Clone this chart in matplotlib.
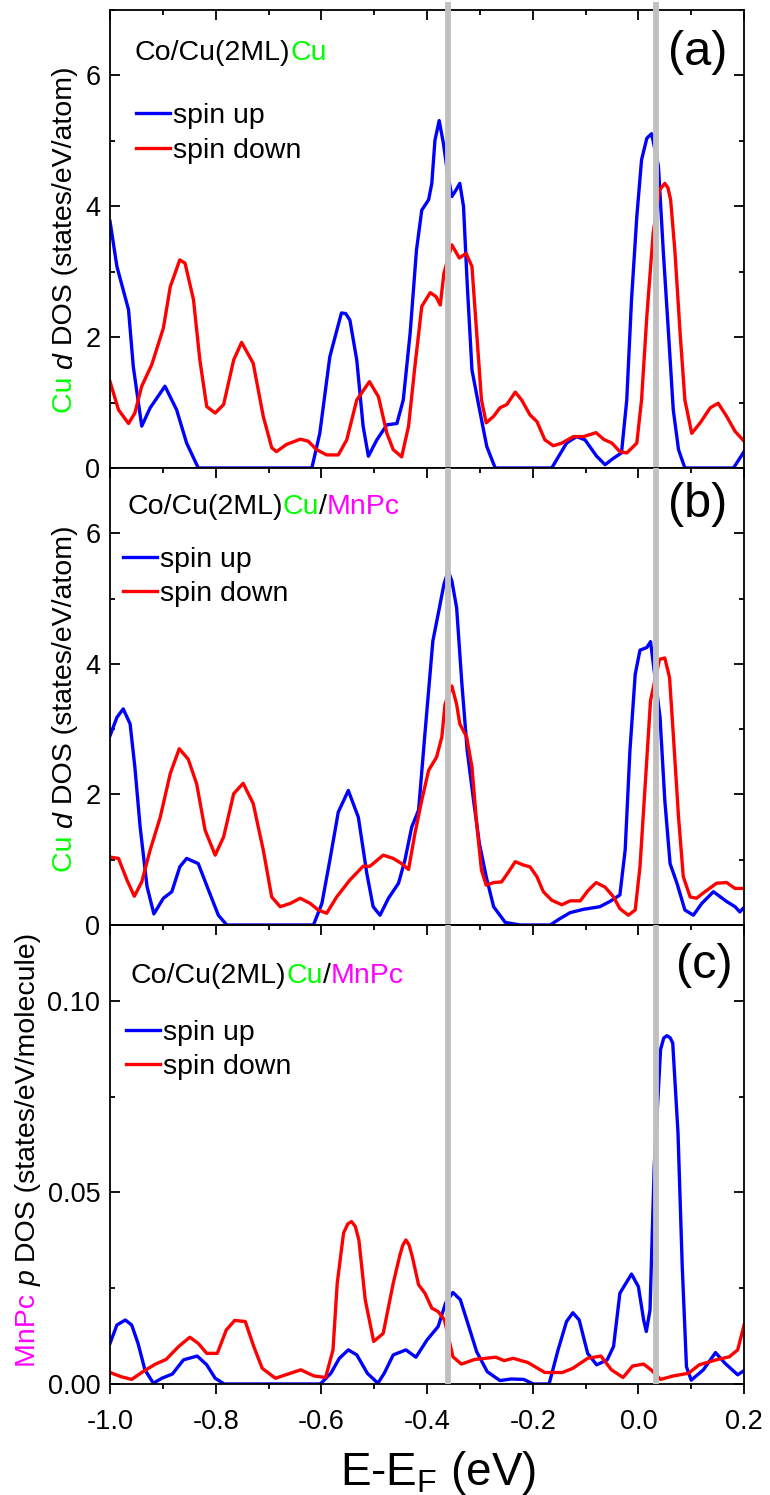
import matplotlib
matplotlib.use("Agg")
import matplotlib.pyplot as plt
from matplotlib.ticker import MultipleLocator, FormatStrFormatter

plt.rcParams['font.family'] = ['Liberation Sans', 'DejaVu Sans']
plt.rcParams['mathtext.fontset'] = 'custom'
plt.rcParams['mathtext.rm'] = 'Liberation Sans'
plt.rcParams['mathtext.it'] = 'Liberation Sans:italic'

# ---- data: energy E-E_F (eV) and DOS ----
# (a) Cu d DOS, Co/Cu(2ML)Cu
e_a_up = [-1.000, -0.987, -0.965, -0.956, -0.940, -0.924, -0.896, -0.874, -0.855, -0.833,
          -0.618, -0.603, -0.584, -0.562, -0.554, -0.546, -0.533, -0.521, -0.511, -0.495, -0.476,
          -0.457, -0.445, -0.432, -0.420, -0.410, -0.397, -0.391, -0.385, -0.377, -0.369,
          -0.361, -0.353, -0.345, -0.338, -0.331, -0.324, -0.315, -0.303, -0.287, -0.271,
          -0.164, -0.136, -0.117, -0.101, -0.079, -0.063, -0.047, -0.032, -0.022, -0.013,
          -0.003, 0.006, 0.016, 0.025, 0.038, 0.047, 0.057, 0.066, 0.076, 0.088,
          0.180, 0.200]
dos_a_up = [3.77, 3.08, 2.42, 1.55, 0.64, 0.92, 1.25, 0.89, 0.38, 0.00,
            0.00, 0.53, 1.70, 2.37, 2.36, 2.26, 1.65, 0.64, 0.18, 0.43, 0.66,
            0.68, 1.04, 2.06, 3.33, 3.94, 4.10, 4.35, 5.01, 5.31, 4.96,
            4.50, 4.15, 4.25, 4.35, 4.00, 2.82, 1.50, 0.99, 0.33, 0.00,
            0.00, 0.38, 0.48, 0.43, 0.18, 0.05, 0.15, 0.23, 1.04, 2.57,
            3.84, 4.71, 5.04, 5.11, 4.61, 3.33, 2.06, 0.89, 0.28, 0.00,
            0.00, 0.25]
e_a_dn = [-1.000, -0.984, -0.965, -0.953, -0.940, -0.921, -0.899, -0.886, -0.868, -0.858,
          -0.842, -0.830, -0.817, -0.801, -0.785, -0.766, -0.751, -0.729, -0.710, -0.694,
          -0.685, -0.666, -0.640, -0.625, -0.609, -0.590, -0.568, -0.552, -0.533, -0.509,
          -0.492, -0.476, -0.464, -0.448, -0.435, -0.423, -0.410, -0.394, -0.383, -0.375,
          -0.368, -0.353, -0.339, -0.326, -0.315, -0.306, -0.297, -0.288, -0.274, -0.262,
          -0.249, -0.233, -0.221, -0.205, -0.192, -0.177, -0.161, -0.145, -0.123, -0.104,
          -0.080, -0.066, -0.050, -0.035, -0.022, -0.003, 0.006, 0.016, 0.028, 0.040,
          0.050, 0.056, 0.061, 0.069, 0.079, 0.088, 0.101, 0.117, 0.136, 0.151, 0.167,
          0.183, 0.200]
dos_a_dn = [1.32, 0.89, 0.68, 0.84, 1.25, 1.58, 2.14, 2.77, 3.18, 3.13,
            2.57, 1.65, 0.94, 0.84, 0.97, 1.65, 1.92, 1.60, 0.79, 0.31,
            0.25, 0.36, 0.44, 0.41, 0.28, 0.20, 0.20, 0.43, 1.04, 1.32,
            1.09, 0.53, 0.28, 0.17, 0.64, 1.55, 2.47, 2.68, 2.62, 2.49,
            2.98, 3.41, 3.21, 3.28, 3.08, 2.06, 1.04, 0.69, 0.79, 0.92,
            0.97, 1.16, 1.04, 0.81, 0.71, 0.43, 0.34, 0.38, 0.48, 0.48,
            0.54, 0.44, 0.38, 0.25, 0.23, 0.38, 1.04, 2.32, 3.59, 4.25,
            4.35, 4.28, 4.10, 3.33, 2.06, 1.04, 0.53, 0.69, 0.92, 0.99, 0.79,
            0.56, 0.41]

# (b) Cu d DOS, Co/Cu(2ML)Cu/MnPc
e_b_up = [-1.000, -0.987, -0.975, -0.962, -0.953, -0.943, -0.930, -0.917, -0.899, -0.883,
          -0.868, -0.855, -0.833, -0.811, -0.795, -0.779, -0.615, -0.599, -0.584, -0.568,
          -0.549, -0.530, -0.514, -0.502, -0.489, -0.473, -0.454, -0.442, -0.429, -0.416,
          -0.404, -0.389, -0.379, -0.368, -0.360, -0.353, -0.344, -0.334, -0.324, -0.312,
          -0.301, -0.288, -0.274, -0.252, -0.224, -0.167, -0.148, -0.129, -0.104, -0.073,
          -0.054, -0.035, -0.025, -0.016, -0.006, 0.003, 0.016, 0.023, 0.041, 0.050,
          0.060, 0.073, 0.088, 0.104, 0.120, 0.142, 0.167, 0.183, 0.192, 0.200]
dos_b_up = [2.90, 3.18, 3.31, 3.08, 2.42, 1.50, 0.59, 0.17, 0.41, 0.51,
            0.89, 1.02, 0.94, 0.48, 0.15, 0.00, 0.00, 0.33, 0.99, 1.73,
            2.06, 1.65, 0.79, 0.28, 0.15, 0.41, 0.64, 0.99, 1.50, 1.76,
            2.93, 4.35, 4.76, 5.22, 5.42, 5.27, 4.86, 3.69, 2.67, 1.91,
            1.25, 0.74, 0.28, 0.04, 0.00, 0.00, 0.10, 0.19, 0.24, 0.28,
            0.36, 0.46, 1.15, 2.67, 3.84, 4.21, 4.25, 4.34, 3.18, 1.91,
            0.94, 0.64, 0.23, 0.15, 0.33, 0.51, 0.36, 0.28, 0.20, 0.27]
e_b_dn = [-1.000, -0.984, -0.968, -0.954, -0.940, -0.924, -0.905, -0.886, -0.869, -0.852,
          -0.836, -0.820, -0.801, -0.785, -0.766, -0.748, -0.729, -0.710, -0.694, -0.678,
          -0.659, -0.640, -0.621, -0.606, -0.590, -0.571, -0.546, -0.521, -0.508, -0.483,
          -0.464, -0.448, -0.435, -0.423, -0.410, -0.397, -0.382, -0.372, -0.366, -0.353,
          -0.344, -0.338, -0.325, -0.315, -0.306, -0.297, -0.288, -0.274, -0.259, -0.246,
          -0.233, -0.218, -0.205, -0.192, -0.180, -0.164, -0.145, -0.129, -0.110, -0.095,
          -0.080, -0.063, -0.047, -0.035, -0.019, -0.006, 0.003, 0.013, 0.023, 0.040,
          0.050, 0.059, 0.066, 0.076, 0.085, 0.098, 0.110, 0.126, 0.148, 0.167,
          0.183, 0.200]
dos_b_dn = [1.04, 1.02, 0.69, 0.44, 0.66, 1.15, 1.65, 2.32, 2.70, 2.54,
            2.16, 1.45, 1.07, 1.35, 2.01, 2.17, 1.86, 1.15, 0.43, 0.28,
            0.33, 0.41, 0.33, 0.23, 0.18, 0.43, 0.69, 0.90, 0.90, 1.07,
            1.02, 0.94, 0.85, 1.40, 1.91, 2.37, 2.57, 2.88, 3.38, 3.66,
            3.38, 3.08, 2.88, 2.42, 1.55, 0.84, 0.61, 0.65, 0.66, 0.81,
            0.97, 0.92, 0.89, 0.74, 0.51, 0.38, 0.31, 0.37, 0.37, 0.53,
            0.65, 0.58, 0.43, 0.25, 0.15, 0.23, 0.89, 2.16, 3.44, 4.07,
            4.09, 3.79, 2.93, 1.65, 0.74, 0.43, 0.41, 0.51, 0.64, 0.65,
            0.56, 0.56]

# (c) MnPc p DOS, Co/Cu(2ML)Cu/MnPc
e_c_up = [-1.000, -0.987, -0.971, -0.959, -0.947, -0.934, -0.918, -0.902, -0.882, -0.861,
          -0.835, -0.817, -0.801, -0.784, -0.602, -0.582, -0.566, -0.549, -0.533, -0.513,
          -0.493, -0.481, -0.464, -0.440, -0.421, -0.400, -0.379, -0.365, -0.351, -0.337,
          -0.323, -0.306, -0.286, -0.262, -0.241, -0.217, -0.199, -0.169, -0.152, -0.136,
          -0.124, -0.112, -0.096, -0.079, -0.059, -0.047, -0.035, -0.013, 0.000, 0.010,
          0.015, 0.022, 0.030, 0.042, 0.048, 0.054, 0.060, 0.065, 0.075, 0.083, 0.091, 0.100,
          0.123, 0.146, 0.164, 0.188, 0.200]
dos_c_up = [0.0106, 0.0154, 0.0167, 0.0154, 0.0106, 0.0037, 0.0002, 0.0015, 0.0026, 0.0063,
            0.0073, 0.0050, 0.0015, 0.0000, 0.0000, 0.0028, 0.0067, 0.0089, 0.0076, 0.0028,
            0.0002, 0.0028, 0.0076, 0.0089, 0.0070, 0.0115, 0.0150, 0.0211, 0.0239, 0.0220,
            0.0159, 0.0084, 0.0032, 0.0009, 0.0013, 0.0012, 0.0000, 0.0000, 0.0089, 0.0163,
            0.0186, 0.0167, 0.0080, 0.0050, 0.0063, 0.0098, 0.0237, 0.0287, 0.0254, 0.0167,
            0.0137, 0.0193, 0.0568, 0.0873, 0.0903, 0.0909, 0.0904, 0.0890, 0.0655, 0.0307, 0.0045, 0.0010,
            0.0037, 0.0082, 0.0054, 0.0024, 0.0035]
e_c_dn = [-1.000, -0.979, -0.959, -0.938, -0.914, -0.894, -0.870, -0.849, -0.833, -0.817,
          -0.797, -0.780, -0.764, -0.744, -0.728, -0.712, -0.687, -0.663, -0.639, -0.614,
          -0.592, -0.578, -0.570, -0.558, -0.550, -0.543, -0.536, -0.529, -0.517, -0.501, -0.483, -0.464,
          -0.452, -0.446, -0.440, -0.434, -0.428, -0.416, -0.404, -0.391, -0.379, -0.367, -0.351, -0.335,
          -0.310, -0.290, -0.270, -0.254, -0.237, -0.209, -0.177, -0.144, -0.124, -0.096,
          -0.071, -0.051, -0.029, -0.011, 0.010, 0.024, 0.042, 0.066, 0.095, 0.115,
          0.147, 0.172, 0.188, 0.200]
dos_c_dn = [0.0030, 0.0019, 0.0012, 0.0032, 0.0052, 0.0064, 0.0098, 0.0122, 0.0106, 0.0080,
            0.0080, 0.0141, 0.0166, 0.0163, 0.0098, 0.0041, 0.0015, 0.0026, 0.0037, 0.0021,
            0.0017, 0.0089, 0.0263, 0.0394, 0.0418, 0.0424, 0.0412, 0.0376, 0.0220, 0.0111, 0.0132, 0.0263,
            0.0333, 0.0362, 0.0376, 0.0363, 0.0333, 0.0259, 0.0237, 0.0198, 0.0189, 0.0167, 0.0071, 0.0052,
            0.0064, 0.0067, 0.0070, 0.0061, 0.0067, 0.0056, 0.0030, 0.0030, 0.0041, 0.0067,
            0.0073, 0.0037, 0.0017, 0.0047, 0.0052, 0.0037, 0.0012, 0.0021, 0.0028, 0.0050,
            0.0063, 0.0071, 0.0089, 0.0154]

marker_lines = [-0.36, 0.033]   # grey vertical guides
GREEN = '#00ff00'
MAGENTA = '#ff00ff'
FS = 20.5


def colored_text(ax, x, y, parts, vertical=False, fontsize=FS):
    """Write several differently styled pieces one after another."""
    s, c, st = parts[0]
    if vertical:
        t = ax.text(x, y, s, color=c, fontstyle=st, fontsize=fontsize, rotation=90,
                    ha='center', va='bottom', transform=ax.transAxes)
    else:
        t = ax.text(x, y, s, color=c, fontstyle=st, fontsize=fontsize,
                    ha='left', va='baseline', transform=ax.transAxes)
    for s, c, st in parts[1:]:
        if vertical:
            t = ax.annotate(s, xy=(0.5, 1), xycoords=t, color=c, fontstyle=st,
                            fontsize=fontsize, rotation=90, ha='center', va='bottom')
        else:
            t = ax.annotate(s, xy=(1, 0), xycoords=t, color=c, fontstyle=st,
                            fontsize=fontsize, ha='left', va='bottom')


fig = plt.figure(figsize=(7.7, 14.95), dpi=100)
ax_a = fig.add_axes([0.1429, 0.68696, 0.8234, 0.30635])
ax_b = fig.add_axes([0.1429, 0.38127, 0.8234, 0.30569])
ax_c = fig.add_axes([0.1429, 0.07425, 0.8234, 0.30702])

panels = [
    (ax_a, e_a_up, dos_a_up, e_a_dn, dos_a_dn),
    (ax_b, e_b_up, dos_b_up, e_b_dn, dos_b_dn),
    (ax_c, e_c_up, dos_c_up, e_c_dn, dos_c_dn),
]

for ax, eu, du, ed, dd in panels:
    ax.plot(eu, du, color='#0000ff', lw=2.4, solid_joinstyle='round', label='spin up')
    ax.plot(ed, dd, color='#ff0000', lw=2.4, solid_joinstyle='round', label='spin down')
    ax.set_xlim(-1.0, 0.2)
    for sp in ax.spines.values():
        sp.set_linewidth(1.3)
    ax.xaxis.set_major_locator(MultipleLocator(0.2))
    ax.xaxis.set_minor_locator(MultipleLocator(0.1))
    ax.xaxis.set_major_formatter(FormatStrFormatter('%.1f'))
    ax.tick_params(axis='both', which='both', direction='in', width=1.3,
                   labelsize=19.5, right=True)
    ax.tick_params(which='major', length=7)
    ax.tick_params(which='minor', length=3.6)
    ax.tick_params(axis='y', pad=7)

for ax in (ax_a, ax_b):
    ax.set_ylim(0, 7)
    ax.yaxis.set_major_locator(MultipleLocator(2))
    ax.yaxis.set_minor_locator(MultipleLocator(1))
    ax.yaxis.set_major_formatter(FormatStrFormatter('%d'))
    ax.tick_params(axis='x', which='both', top=True, bottom=False, labelbottom=False)

ax_c.set_ylim(0, 0.1198)
ax_c.yaxis.set_major_locator(MultipleLocator(0.05))
ax_c.yaxis.set_minor_locator(MultipleLocator(0.025))
ax_c.yaxis.set_major_formatter(FormatStrFormatter('%.2f'))
ax_c.tick_params(axis='x', which='both', direction='out', top=False, bottom=True, pad=11)
sec = ax_c.secondary_xaxis('top')
sec.xaxis.set_major_locator(MultipleLocator(0.2))
sec.xaxis.set_minor_locator(MultipleLocator(0.1))
sec.tick_params(axis='x', which='both', direction='in', width=1.3, labeltop=False)
sec.tick_params(which='major', length=7)
sec.tick_params(which='minor', length=3.6)
sec.spines['top'].set_linewidth(1.3)

# grey guide lines
for ax in (ax_a, ax_b, ax_c):
    for xv in marker_lines:
        if ax is ax_a:
            ax.axvline(xv, ymin=0, ymax=1.011, color='#c0c0c0', lw=4.2, zorder=3, clip_on=False)
        else:
            ax.axvline(xv, color='#c0c0c0', lw=4.2, zorder=3)

# legends
leg_pos = {ax_a: (0.041, 0.796), ax_b: (0.0205, 0.828), ax_c: (0.025, 0.794)}
for ax, pos in leg_pos.items():
    ax.legend(loc='upper left', bbox_to_anchor=pos, frameon=False, fontsize=FS,
              handlelength=1.19, handletextpad=0.1, labelspacing=0.31,
              borderpad=0, borderaxespad=0)

# system annotations
colored_text(ax_a, 0.039, 0.891, [('Co/Cu(2ML)', 'black', 'normal'), ('Cu', GREEN, 'normal')])
colored_text(ax_b, 0.027, 0.899, [('Co/Cu(2ML)', 'black', 'normal'), ('Cu', GREEN, 'normal'),
                                  ('/', 'black', 'normal'), ('MnPc', MAGENTA, 'normal')])
colored_text(ax_c, 0.033, 0.873, [('Co/Cu(2ML)', 'black', 'normal'), ('Cu', GREEN, 'normal'),
                                  ('/', 'black', 'normal'), ('MnPc', MAGENTA, 'normal')])

# y labels
colored_text(ax_a, -0.071, 0.120, [('Cu ', GREEN, 'normal'), ('d', 'black', 'italic'),
                                   (' DOS (states/eV/atom)', 'black', 'normal')], vertical=True)
colored_text(ax_b, -0.071, 0.116, [('Cu ', GREEN, 'normal'), ('d', 'black', 'italic'),
                                   (' DOS (states/eV/atom)', 'black', 'normal')], vertical=True)
colored_text(ax_c, -0.129, 0.037, [('MnPc ', MAGENTA, 'normal'), ('p', 'black', 'italic'),
                                   (' DOS (states/eV/molecule)', 'black', 'normal')], vertical=True)

# panel labels
ax_a.text(0.927, 0.907, '(a)', transform=ax_a.transAxes, fontsize=35, ha='center', va='center')
ax_b.text(0.927, 0.921, '(b)', transform=ax_b.transAxes, fontsize=35, ha='center', va='center')
ax_c.text(0.938, 0.912, '(c)', transform=ax_c.transAxes, fontsize=35, ha='center', va='center')

ax_c.set_xlabel(r'E-E$_\mathregular{F}$ (eV)', fontsize=33)
ax_c.xaxis.label.set_va('baseline')
ax_c.xaxis.set_label_coords(0.518, -0.220)

fig.savefig('out.png', dpi=100)
